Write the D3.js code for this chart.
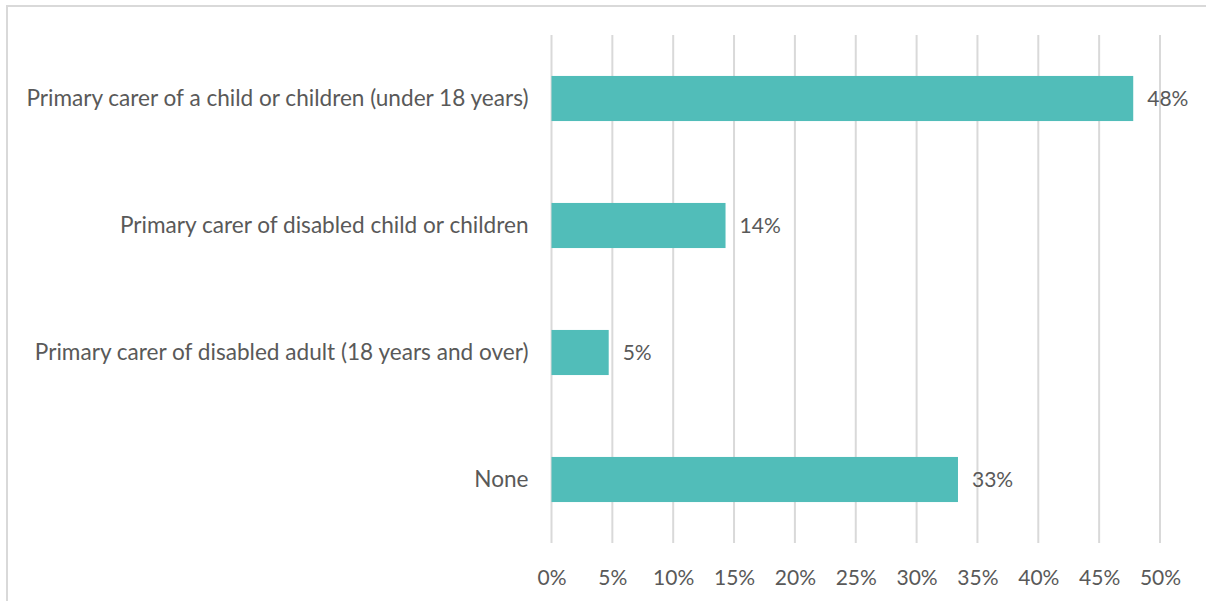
<!DOCTYPE html>
<html>
<head>
<meta charset="utf-8">
<script src="https://cdn.jsdelivr.net/npm/d3@7"></script>
<style>
  html, body { margin: 0; padding: 0; background: #fff; }
  svg { display: block; }
  text { font-family: Lato, "Open Sans", sans-serif; fill: #595959; }
</style>
</head>
<body>
<svg id="chart" width="1206" height="601"></svg>
<script>
// Caring responsibilities, share of respondents
const categories = [
  "Primary carer of a child or children (under 18 years)",
  "Primary carer of disabled child or children",
  "Primary carer of disabled adult (18 years and over)",
  "None"
];
const values = [0.478, 0.143, 0.047, 0.334];
const tickValues = [0, 0.05, 0.10, 0.15, 0.20, 0.25, 0.30, 0.35, 0.40, 0.45, 0.50];

const W = 1206, H = 601;
const margin = { top: 35, right: 46, bottom: 58, left: 551.5 };
const innerW = W - margin.left - margin.right;
const innerH = H - margin.top - margin.bottom;

const svg = d3.select("#chart");

// chart frame
svg.append("rect")
  .attr("x", 7).attr("y", 6)
  .attr("width", W + 10).attr("height", H + 10)
  .attr("fill", "none")
  .attr("stroke", "#d9d9d9")
  .attr("stroke-width", 2);

const g = svg.append("g").attr("transform", `translate(${margin.left},${margin.top})`);

const x = d3.scaleLinear().domain([0, 0.5]).range([0, innerW]);
const y = d3.scaleBand().domain(categories).range([0, innerH]).paddingInner(0.645).paddingOuter(0.3225);

// vertical gridlines
g.append("g")
  .selectAll("line")
  .data(tickValues)
  .join("line")
  .attr("x1", d => x(d)).attr("x2", d => x(d))
  .attr("y1", 0).attr("y2", innerH)
  .attr("stroke", "#d9d9d9")
  .attr("stroke-width", 2);

// x axis labels
const xAxis = d3.axisBottom(x).tickValues(tickValues).tickFormat(d3.format(".0%")).tickSize(0).tickPadding(27);
const xa = g.append("g").attr("transform", `translate(0,${innerH})`).call(xAxis);
xa.select(".domain").remove();
xa.selectAll("text").attr("font-size", 21).style("font-family", "Lato, sans-serif").attr("fill", "#595959");

// y axis labels
const yAxis = d3.axisLeft(y).tickSize(0).tickPadding(23);
const ya = g.append("g").call(yAxis);
ya.select(".domain").remove();
ya.selectAll("text").attr("font-size", 22.6).style("font-family", "Lato, sans-serif").attr("fill", "#595959");

// bars
g.append("g")
  .selectAll("rect")
  .data(values)
  .join("rect")
  .attr("x", 0)
  .attr("y", (d, i) => y(categories[i]))
  .attr("width", d => x(d))
  .attr("height", y.bandwidth())
  .attr("fill", "#51bdb9");

// value labels
g.append("g")
  .selectAll("text")
  .data(values)
  .join("text")
  .attr("x", d => x(d) + 14)
  .attr("y", (d, i) => y(categories[i]) + y.bandwidth() / 2)
  .attr("dy", "0.35em")
  .attr("font-size", 21)
  .text(d => d3.format(".0%")(d));
</script>
</body>
</html>
